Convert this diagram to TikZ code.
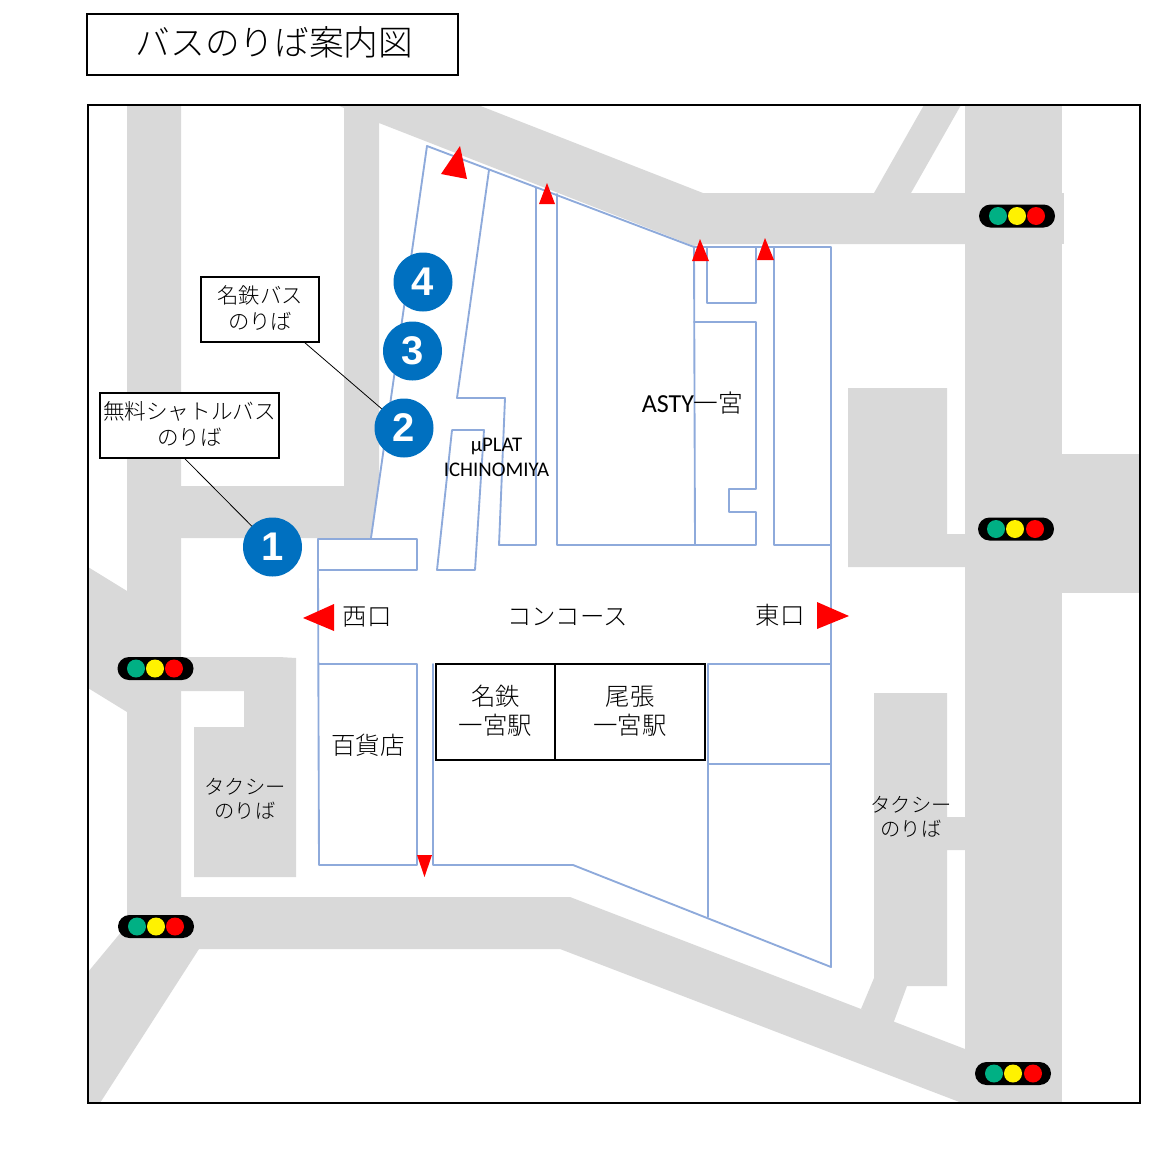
\documentclass[tikz,border=0pt]{standalone}
\usepackage{fontspec}
\setmainfont{Noto Sans CJK JP Light}
\newfontfamily\latinfont{Carlito}
\newfontfamily\digitfont{Liberation Sans}
\definecolor{roadgray}{HTML}{D9D9D9}
\definecolor{wallblue}{HTML}{8EAADB}
\definecolor{stopblue}{HTML}{0070C0}
\definecolor{lampgreen}{HTML}{00B084}
% text set a little off the middle of its box
\newcommand{\boxtext}[2][-3]{\vbox{\hbox{\begin{tabular}{@{}c@{}}#2\end{tabular}}\vskip #1pt}}

\begin{document}
\begin{tikzpicture}[
            x=0.75pt, y=-0.75pt,
            road/.style={fill=roadgray},
            wall/.style={draw=wallblue,line width=1.4pt,line join=round,line cap=round},
            exitmark/.style={fill=red},
            txt/.style={inner sep=0pt,align=center,font=\fontsize{#1}{\dimexpr #1pt*6/5\relax}\selectfont},
            txt/.default=18.3,
            box/.style={draw,line width=1.5pt,fill=white,inner sep=0pt,outer sep=0pt,align=center},
            stop/.style={circle,fill=stopblue,text=white,minimum size=44.25pt,
                inner sep=0pt,outer sep=0pt,font=\digitfont\bfseries\fontsize{30}{30}\selectfont},
            signal/.style={fill=black,rounded corners=8.6pt,minimum width=57pt,
                minimum height=17.25pt,inner sep=0pt},
            lamp/.style={circle,fill=#1,minimum size=13.5pt,inner sep=0pt}
        ]
        \useasboundingbox (0, 0) rectangle (1152, 1160);
        % roads
        \fill[road] (127, 105) -- (181, 105) -- (181, 949) -- (199, 949) -- (100, 1103) -- (88, 1103)
            -- (88, 972) -- (127, 925) -- cycle;
        \fill[road] (88, 567) -- (127, 591) -- (127, 712) -- (88, 688) -- cycle;
        \fill[road] (181, 486) -- (344, 486) -- (344, 108) -- (337, 105) -- (478, 105) -- (703, 193)
            -- (965, 193) -- (965, 244) -- (702, 244) -- (694, 246) -- (379, 123) -- (379, 482)
            -- (371, 538) -- (181, 538) -- cycle;
        \fill[road] (874, 193) -- (924, 105) -- (961, 105) -- (911, 193) -- cycle;
        \fill[road] (965, 105) rectangle (1062, 1103);
        \fill[road] (1062, 193) rectangle (1064, 244);
        \fill[road] (1062, 454) rectangle (1140, 593);
        \fill[road] (181, 897) -- (570, 897) -- (965, 1049) -- (965, 1103) -- (962, 1103) -- (560, 949)
            -- (181, 949) -- cycle;
        \fill[road] (848, 388) -- (947, 388) -- (947, 534) -- (965, 534) -- (965, 567) -- (848, 567) -- cycle;
        \fill[road] (181, 657) -- (279, 657) -- (296, 658) -- (296, 877) -- (194, 877) -- (194, 727)
            -- (244, 727) -- (244, 691) -- (181, 691) -- cycle;
        \fill[road] (874, 693) -- (947, 693) -- (947, 817) -- (965, 817) -- (965, 850) -- (947, 850)
            -- (947, 986) -- (907, 986) -- (893, 1024) -- (861, 1009) -- (874, 978) -- cycle;
        \draw[line width=1.5pt] (88, 105) rectangle (1140, 1103);
        % building outlines
        \draw[wall] (371, 538) -- (427, 146) -- (694, 247) -- (831, 247) -- (831, 967) -- (573, 865) -- (433, 865) -- (433, 664);
        \draw[wall] (489, 170) -- (457, 398) -- (505, 398) -- (499, 545) -- (536, 545) -- (536, 188);
        \draw[wall] (557, 194) -- (557, 545) -- (756, 545) -- (756, 512) -- (729, 512) -- (729, 489) -- (756, 489) -- (756, 322) -- (694, 322);
        \draw[wall] (694, 247) -- (695, 545);
        \draw[wall] (707, 248) -- (707, 303) -- (756, 303) -- (756, 248);
        \draw[wall] (774, 247) -- (774, 545) -- (831, 545);
        \draw[wall] (318, 539) rectangle (417, 570);
        \draw[wall] (318, 570) -- (319, 865) -- (417, 865) -- (417, 664) -- (319, 664);
        \draw[wall] (452, 430) -- (484, 430) -- (475, 570) -- (437, 570) -- cycle;
        \draw[wall] (708, 664) -- (831, 664);
        \draw[wall] (708, 764) -- (831, 764);
        \draw[wall] (708, 664) -- (708, 917);
        % exits
        \fill[exitmark] (460, 146) -- (441, 174) -- (467, 179) -- cycle;
        \fill[exitmark] (547, 183) -- (539, 204) -- (555, 204) -- cycle;
        \fill[exitmark] (700, 239) -- (692, 261) -- (709, 261) -- cycle;
        \fill[exitmark] (765, 238) -- (757, 260) -- (774, 260) -- cycle;
        \fill[exitmark] (303, 618) -- (334, 604) -- (334, 631) -- cycle;
        \fill[exitmark] (849, 616) -- (817, 602) -- (817, 629) -- cycle;
        \fill[exitmark] (417, 855) -- (432, 855) -- (424.5, 877) -- cycle;
        % signals
        \foreach \x/\y/\a/\b/\c in {155.5/668.5/136/155/174, 156/926.5/137/156/175,
                1017/216/998/1017/1036, 1016/529/996/1015/1035, 1013/1073.5/994/1013/1033} {
            \node[signal] at (\x, \y) {};
            \node[lamp=lampgreen] at (\a, \y) {};
            \node[lamp=yellow] at (\b, \y) {};
            \node[lamp=red] at (\c, \y) {};
        }
        % title and labels
        \node[box,minimum width=278.25pt,minimum height=45.75pt,txt=26] (title) at (272.5, 44.5) {\boxtext[-4.5]{\hspace*{3pt}バスのりば案内図}};
        \node[box,minimum width=88.5pt,minimum height=48.75pt,txt=16] (meitetsubus) at (260, 309.5) {\boxtext{名鉄バス\\のりば}};
        \node[box,minimum width=134.25pt,minimum height=48.75pt,txt=16.2] (shuttlebus) at (189.5, 425.5) {\boxtext{無料シャトルバス\\のりば}};
        \node[stop] (stopone) at (272.5, 547) {1};
        \node[stop] (stoptwo) at (404, 428) {2};
        \node[stop] (stopthree) at (412.5, 351) {3};
        \node[stop] (stopfour) at (423, 282) {4};
        \draw[line width=0.6pt] ([xshift=-4pt]shuttlebus.south) -- (stopone);
        \draw[line width=0.6pt] ([xshift=33pt]meitetsubus.south) -- (stoptwo);
        \node[box,minimum width=89.25pt,minimum height=72pt,txt] (meitetsu) at (495.5, 712) {\boxtext{名鉄\\一宮駅}};
        \node[box,minimum width=112.5pt,minimum height=72pt,txt] (owari) at (630, 712) {\boxtext{尾張\\一宮駅}};
        \node[txt] (westexit) at (367, 617) {西口};
        \node[txt] (concourse) at (567.5, 617) {コンコース};
        \node[txt] (eastexit) at (780, 615) {東口};
        \node[txt] (depart) at (368, 745) {百貨店};
        \node[txt] (asty) at (692.5, 403) {\fontsize{19.5}{20}\selectfont{\latinfont ASTY}\fontsize{18.5}{20}\selectfont 一宮};
        \node[txt=15.6] (muplat) at (496.5, 457) {\latinfont µPLAT\\\latinfont ICHINOMIYA};
        \node[txt=15.2] (taxiwest) at (245, 798.5) {タクシー\\のりば};
        \node[txt=15.2] (taxieast) at (911, 817) {タクシー\\のりば};
    \end{tikzpicture}
\end{document}
